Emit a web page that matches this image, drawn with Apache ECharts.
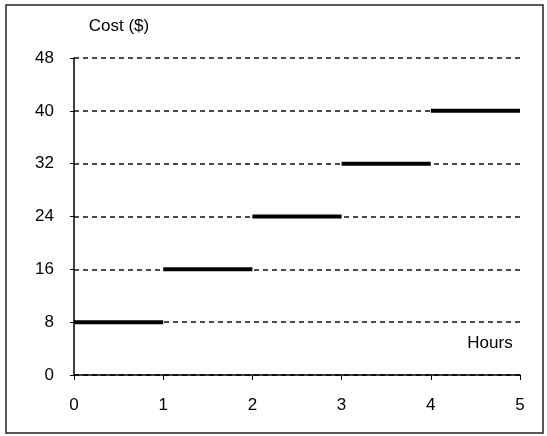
<!DOCTYPE html>
<html><head><meta charset="utf-8">
<script src="https://cdn.jsdelivr.net/npm/echarts@6/dist/echarts.min.js"></script>
<style>html,body{margin:0;padding:0;background:#fff}#c{width:547px;height:436px}</style>
</head><body><div id="c"></div>
<script>
const hourStarts = [0, 1, 2, 3, 4];
const hourEnds = [1, 2, 3, 4, 5];
const costs = [8, 16, 24, 32, 40];
const yTicks = [0, 8, 16, 24, 32, 40, 48];
const xTicks = [0, 1, 2, 3, 4, 5];

const font = 'Liberation Sans, Arial, sans-serif';
const chart = echarts.init(document.getElementById('c'));
const series = costs.map((c, i) => ({
  type: 'line',
  data: [[hourStarts[i], c], [hourEnds[i], c]],
  symbol: 'none',
  lineStyle: { color: '#000', width: 4 },
  z: 5,
  silent: true
}));
chart.setOption({
  animation: false,
  backgroundColor: '#fff',
  grid: { left: 74, right: 27, top: 58, bottom: 61 },
  xAxis: {
    type: 'value', min: 0, max: 5, interval: 1,
    axisLine: { show: true, lineStyle: { color: '#000', width: 1.5 } },
    axisTick: { show: true, length: 5, lineStyle: { color: '#000' } },
    axisLabel: { margin: 22, fontSize: 17, color: '#000', fontFamily: font,
      formatter: v => xTicks.includes(v) ? String(v) : '' },
    splitLine: { show: false }
  },
  yAxis: {
    type: 'value', min: 0, max: 48, interval: 8,
    axisLine: { show: true, lineStyle: { color: '#000', width: 1.5 } },
    axisTick: { show: true, length: 4, lineStyle: { color: '#000' } },
    axisLabel: { margin: 20, fontSize: 17, color: '#000', fontFamily: font,
      formatter: v => yTicks.includes(v) ? String(v) : '' },
    splitLine: { show: true, lineStyle: { color: '#111', type: [5, 4], width: 1.5 } }
  },
  graphic: [
    { type: 'rect', shape: { x: 6, y: 5, width: 537, height: 428 },
      style: { fill: 'none', stroke: '#222', lineWidth: 1.5 }, z: 0 },
    { type: 'text', x: 119, y: 26, style: { text: 'Cost ($)', fontSize: 17, fontFamily: font,
      fill: '#000', textAlign: 'center', textVerticalAlign: 'middle' } },
    { type: 'text', x: 490, y: 343, style: { text: 'Hours', fontSize: 17, fontFamily: font,
      fill: '#000', textAlign: 'center', textVerticalAlign: 'middle' } }
  ],
  series: series
});
</script></body></html>
